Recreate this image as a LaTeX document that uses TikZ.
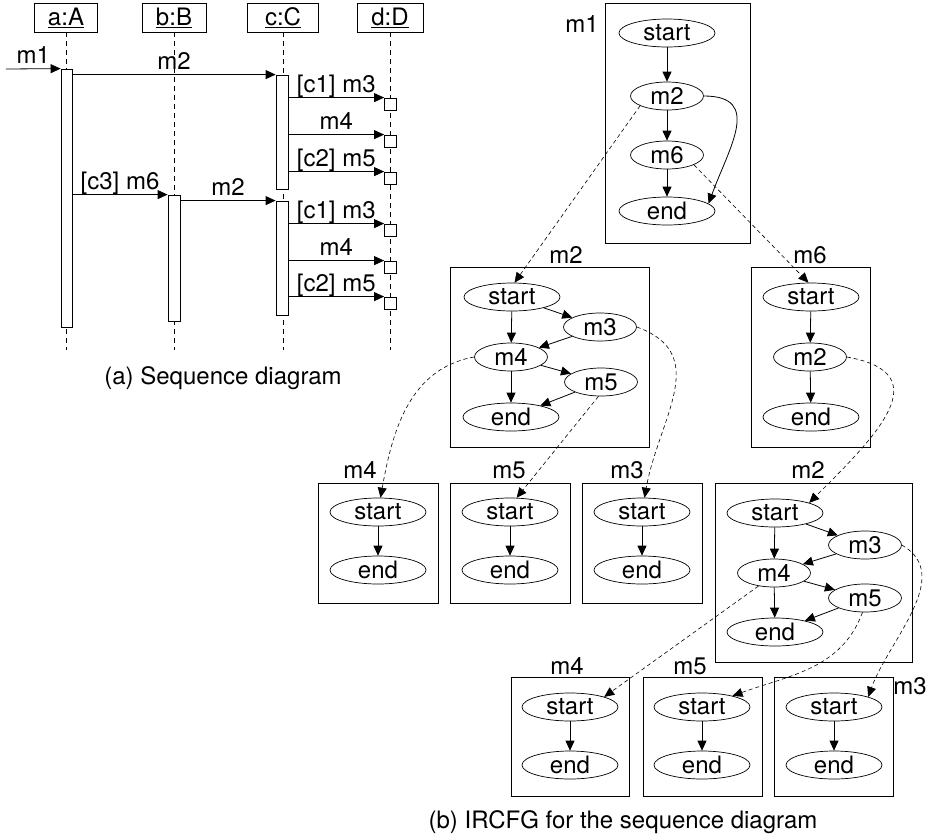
\documentclass[tikz,border=0pt]{standalone}
\usepackage{fontspec}
\setmainfont{TeX Gyre Heros}
\usetikzlibrary{arrows.meta, shapes.geometric}

\begin{document}
\begin{tikzpicture}[
    x=1pt, y=1pt, line width=0.8pt,
    font=\fontsize{24}{28}\selectfont,
    obj/.style={draw, minimum height=29, inner sep=0pt},
    bar/.style={draw, fill=white, minimum width=12, inner sep=0pt},
    recv/.style={draw, fill=white, minimum size=12, inner sep=0pt},
    life/.style={dash pattern=on 5pt off 4pt, line width=0.6pt},
    msg/.style={-{Triangle[length=10pt,width=9pt]}},
    mlab/.style={above, inner sep=0pt, text depth=5pt},
    frame/.style={draw, line width=0.9pt},
    blk/.style={ellipse, draw, line width=0.7pt, inner sep=0pt, minimum height=28, minimum width=96},
    mblk/.style={blk, minimum width=73},
    flow/.style={-{Triangle[length=10pt,width=9pt]}},
    call/.style={-{Triangle[length=10pt,width=9pt]}, dash pattern=on 4pt off 3pt, line width=0.6pt}
]
    \useasboundingbox (0,0) rectangle (929,-839);

    % (a) objects and lifelines
    \node[obj, minimum width=63] (oa) at (66,-17.5) {\underline{a:A}};
    \node[obj, minimum width=64] (ob) at (174,-17.5) {\underline{b:B}};
    \node[obj, minimum width=71] (oc) at (283,-17.5) {\underline{c:C}};
    \node[obj, minimum width=66] (od) at (390,-17.5) {\underline{d:D}};
    \foreach \o in {oa,ob,oc,od}
        \draw[life] (\o.south) -- (\o.south |- 0,-350);

    % activation bars
    \node[bar, minimum width=11, minimum height=258] (ba) at (66.5,-198) {};
    \node[bar, minimum height=126] (bb) at (174,-258) {};
    \node[bar, minimum height=114] (bc1) at (282,-132) {};
    \node[bar, minimum height=114] (bc2) at (282,-258) {};
    \foreach \n/\y in {1/104,2/141,3/178,4/230,5/267,6/303}
        \node[recv] (r\n) at (390.5,-\y) {};

    % messages
    \coordinate (m1in) at (6,-69);
    \draw[msg] (m1in) -- node[mlab] {m1} (ba.north west);
    \draw[msg] (ba.east |- bc1.north) -- node[mlab] {m2} (bc1.north west);
    \draw[msg] (ba.east |- bb.north) -- node[mlab] {[c3] m6} (bb.north west);
    \draw[msg] (bb.east |- bc2.north) -- node[mlab] {m2} (bc2.north west);
    \foreach \b/\r/\t in {bc1/r1/{[c1] m3}, bc1/r2/m4, bc1/r3/{[c2] m5},
                          bc2/r4/{[c1] m3}, bc2/r5/m4, bc2/r6/{[c2] m5}}
        \draw[msg] (\b.east |- \r.north) -- node[mlab] {\t} (\r.north west);

    \node (capa) at (223,-378) {(a) Sequence diagram};

    % (b) frames
    \draw[frame] (605,-3) rectangle (750,-243);
    \draw[frame] (450,-267) rectangle (649,-447);
    \draw[frame] (751,-267) rectangle (870,-447);
    \draw[frame] (318,-483) rectangle (438,-603);
    \draw[frame] (450,-483) rectangle (570,-603);
    \draw[frame] (582,-483) rectangle (702,-603);
    \draw[frame] (715,-483) rectangle (912,-662);
    \draw[frame] (511,-677) rectangle (629,-796);
    \draw[frame] (643,-677) rectangle (762,-796);
    \draw[frame] (774,-677) rectangle (893,-796);

    \node (l1) at (582,-24) {m1};
    \node (l2) at (566,-255) {m2};
    \node (l3) at (810,-255) {m6};
    \node (l4) at (360,-470) {m4};
    \node (l5) at (509,-470) {m5};
    \node (l6) at (627,-470) {m3};
    \node (l7) at (808,-470) {m2};
    \node (l8) at (567,-666) {m4};
    \node (l9) at (690,-666) {m5};
    \node (l10) at (910,-686) {m3};

    % m1
    \node[blk] (g1s) at (667,-33) {start};
    \node[mblk] (g1m2) at (667,-96) {m2};
    \node[mblk] (g1m6) at (667,-155) {m6};
    \node[blk] (g1e) at (667,-211) {end};
    \draw[flow] (g1s) -- (g1m2);
    \draw[flow] (g1m2) -- (g1m6);
    \draw[flow] (g1m6) -- (g1e);
    \draw[flow] (g1m2.east) to[out=0, in=70, looseness=1.4] (g1e.10);

    % m2
    \node[blk] (g2s) at (512,-297) {start};
    \node[mblk] (g2m3) at (600,-327) {m3};
    \node[mblk] (g2m4) at (511,-357) {m4};
    \node[mblk] (g2m5) at (601,-382) {m5};
    \node[blk] (g2e) at (511,-417) {end};
    \draw[flow] (g2s) -- (g2m4);
    \draw[flow] (g2s) -- (g2m3);
    \draw[flow] (g2m3) -- (g2m4);
    \draw[flow] (g2m4) -- (g2m5);
    \draw[flow] (g2m5) -- (g2e);
    \draw[flow] (g2m4) -- (g2e);

    % m6
    \node[blk] (g3s) at (811,-297) {start};
    \node[mblk] (g3m2) at (810,-357) {m2};
    \node[blk] (g3e) at (811,-417) {end};
    \draw[flow] (g3s) -- (g3m2);
    \draw[flow] (g3m2) -- (g3e);

    % m4, m5, m3
    \foreach \g/\x/\y in {g4/378/512, g5/510/512, g6/642/512,
                          g8/570/707, g9/702/707, g10/834/707} {
        \node[blk] (\g s) at (\x,-\y) {start};
        \node[blk] (\g e) at (\x,-\y-58) {end};
        \draw[flow] (\g s) -- (\g e);
    }

    % m2 (second)
    \node[blk] (g7s) at (775,-513) {start};
    \node[mblk] (g7m3) at (865,-545) {m3};
    \node[mblk] (g7m4) at (774,-573) {m4};
    \node[mblk] (g7m5) at (865,-598) {m5};
    \node[blk] (g7e) at (775,-632) {end};
    \draw[flow] (g7s) -- (g7m4);
    \draw[flow] (g7s) -- (g7m3);
    \draw[flow] (g7m3) -- (g7m4);
    \draw[flow] (g7m4) -- (g7m5);
    \draw[flow] (g7m5) -- (g7e);
    \draw[flow] (g7m4) -- (g7e);

    % call edges
    \draw[call] (g1m2.200) -- (g2s.80);
    \draw[call] (g1m6.-20) -- (g3s.100);
    \draw[call] (g2m4.west) to[out=190, in=80] (g4s.80);
    \draw[call] (g2m5.-100) -- (g5s.65);
    \draw[call] (g2m3.east) to[out=-20, in=80, looseness=1.2] (g6s.80);
    \draw[call] (g3m2.east) to[out=-10, in=45, looseness=1.6] (g7s.north east);
    \draw[call] (g7m4.220) -- (g8s.north east);
    \draw[call] (g7m5.-100) to[out=250, in=20] (g9s.20);
    \draw[call] (g7m3.east) to[out=-30, in=70] (g10s.north east);

    \node (capb) at (623,-822) {(b) IRCFG for the sequence diagram};
\end{tikzpicture}
\end{document}
